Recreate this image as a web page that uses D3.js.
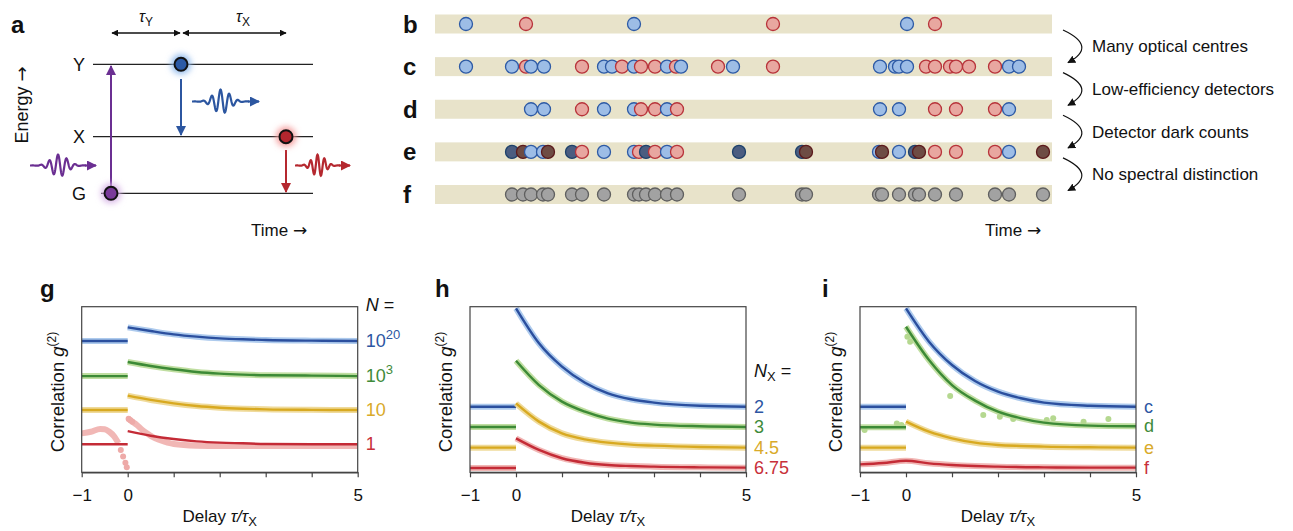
<!DOCTYPE html>
<html>
<head>
<meta charset="utf-8">
<script src="https://cdn.jsdelivr.net/npm/d3@7"></script>
<style>
  body { margin: 0; background: #fff; }
  text { font-family: "Liberation Sans", Arial, Helvetica, sans-serif; fill: #111; }
  .arw { font-family: "DejaVu Sans", sans-serif; }
</style>
</head>
<body>
<div id="fig"></div>
<script>
// ---------- data ----------
// photon detection events for rows b–f: [time, kind]
// kind: Y = biexciton photon, X = exciton photon, dY/dX = dark counts, G = no spectral info
const rowLabels = ["b", "c", "d", "e", "f"];
const rowB = [[31,"Y"],[91,"X"],[199,"Y"],[338,"X"],[472,"Y"],[500,"X"]];
const rowC = [[31,"Y"],[77,"Y"],[91,"X"],[96,"Y"],[109,"Y"],[147,"X"],[169,"Y"],[177,"Y"],[187,"X"],[199,"Y"],
              [206,"X"],[220,"X"],[232,"Y"],[241,"X"],[246,"Y"],[283,"X"],[298,"Y"],[338,"X"],[445,"Y"],[460,"Y"],
              [464,"Y"],[472,"Y"],[491,"X"],[500,"X"],[515,"X"],[521,"X"],[534,"X"],[560,"X"],[574,"Y"],[584,"Y"]];
const rowD = [[96,"Y"],[109,"Y"],[147,"X"],[169,"Y"],[199,"Y"],[206,"X"],[220,"X"],[232,"Y"],[242,"X"],
              [445,"Y"],[464,"Y"],[500,"X"],[521,"X"],[560,"X"],[574,"Y"]];
const rowE = [[77,"dY"],[88,"dX"],[96,"Y"],[108,"Y"],[113,"dX"],[137,"dY"],[147,"X"],[169,"Y"],[199,"Y"],[204,"X"],
              [211,"dY"],[220,"X"],[232,"Y"],[242,"X"],[304,"dY"],[367,"dY"],[371,"dX"],[444,"Y"],[447,"dX"],[464,"Y"],
              [480,"dY"],[484,"dX"],[500,"X"],[521,"X"],[560,"X"],[574,"Y"],[608,"dX"]];
const rowF = rowE.map(d => [d[0], "G"]);
const rows = [rowB, rowC, rowD, rowE, rowF];
const stepNotes = ["Many optical centres", "Low-efficiency detectors", "Detector dark counts", "No spectral distinction"];

// correlation curves (arbitrary offset units, 0–10)
const tauNeg = [-1, 0];
const tauFit = [0, 0.5, 1, 1.5, 2, 2.5, 3, 4, 5];

const gBase   = [7.93, 5.81, 3.76, 1.69];
const gBlue   = [8.75, 8.53, 8.33, 8.19, 8.09, 8.03, 7.99, 7.95, 7.93];
const gGreen  = [6.66, 6.42, 6.22, 6.06, 5.96, 5.90, 5.86, 5.84, 5.81];
const gYellow = [4.63, 4.37, 4.16, 4.00, 3.90, 3.84, 3.80, 3.77, 3.76];
const gRed    = [2.49, 2.21, 2.01, 1.87, 1.79, 1.75, 1.71, 1.69, 1.69];
const gRedNegTau = [-1, -0.8, -0.6, -0.5, -0.4, -0.3, -0.2];
const gRedNegVal = [2.35, 2.45, 2.62, 2.60, 2.45, 2.19, 1.75];
const gRedPosTau = [0, 0.1, 0.2, 0.3, 0.4, 0.6, 0.8, 1, 1.5, 2, 3, 4, 5];
const gRedPosVal = [3.26, 3.06, 2.86, 2.60, 2.39, 2.05, 1.85, 1.71, 1.61, 1.59, 1.59, 1.59, 1.59];
const gRedDotTau = [-0.15, -0.1, -0.05, -0.02, 0.02, 0.06, 0.1];
const gRedDotVal = [1.35, 0.95, 0.58, 0.30, 3.24, 3.15, 3.06];
const gLabels = [["10","20"], ["10","3"], ["10",""], ["1",""]];

const hBase   = [3.96, 2.74, 1.49, 0.26];
const hBlue   = [9.90, 7.79, 6.38, 5.41, 4.77, 4.41, 4.21, 4.02, 3.96];
const hGreen  = [6.74, 5.27, 4.27, 3.66, 3.24, 3.00, 2.88, 2.78, 2.74];
const hYellow = [4.16, 3.06, 2.35, 1.99, 1.79, 1.67, 1.61, 1.53, 1.49];
const hRed    = [2.05, 1.35, 0.85, 0.58, 0.44, 0.38, 0.34, 0.30, 0.28];
const hLabels = [["2",""], ["3",""], ["4.5",""], ["6.75",""]];

const iBase   = [3.96, 2.72, 1.49];
const iBlue   = [9.90, 7.89, 6.48, 5.51, 4.87, 4.47, 4.21, 4.02, 3.96];
const iGreen  = [8.79, 6.78, 5.27, 4.33, 3.66, 3.26, 3.00, 2.82, 2.78];
const iYellow = [3.06, 2.45, 2.05, 1.79, 1.65, 1.59, 1.55, 1.51, 1.49];
const iRedTau = [-1, -0.5, 0, 0.5, 1, 1.5, 2, 3, 4, 5];
const iRed    = [0.48, 0.56, 0.70, 0.54, 0.44, 0.38, 0.34, 0.30, 0.28, 0.28];
const iGreenDotTau = [-0.9, -0.2, -0.1, 0.03, 0.09, 0.96, 1.68, 2.04, 2.33, 3.06, 3.2, 3.86, 4.4];
const iGreenDotVal = [2.56, 2.95, 2.85, 8.19, 7.89, 4.61, 3.46, 3.36, 3.22, 3.16, 3.26, 3.06, 3.22];
const iLabels = [["c",""], ["d",""], ["e",""], ["f",""]];

const fitColors   = ["#2b4f9e", "#3c8a36", "#d8a920", "#c42b36"];
const dataColors  = ["#9fc1ea", "#b5d890", "#ecd488", "#eeaaa8"];
const labelColors = ["#2d56a3", "#3f8b3a", "#d9aa2a", "#c8303a"];
const eventStyle = {
  Y:  { fill: "#9dbde6", stroke: "#2d5aa5" },
  X:  { fill: "#e8a7a0", stroke: "#b8333a" },
  dY: { fill: "#4b5d80", stroke: "#1d416b" },
  dX: { fill: "#6e4c44", stroke: "#5c1a1c" },
  G:  { fill: "#a2a2a2", stroke: "#5f5f5f" }
};

// ---------- setup ----------
const svg = d3.select("#fig").append("svg").attr("width", 1293).attr("height", 531);
const defs = svg.append("defs");

function marker(id, color, size) {
  defs.append("marker").attr("id", id)
    .attr("viewBox", "0 0 10 10").attr("refX", 9).attr("refY", 5)
    .attr("markerUnits", "userSpaceOnUse")
    .attr("markerWidth", size).attr("markerHeight", size)
    .attr("orient", "auto-start-reverse")
    .append("path").attr("d", "M0,0 L10,5 L0,10 z").attr("fill", color);
}
marker("arK", "#111", 8);
marker("arKs", "#111", 7);
marker("arP", "#6b2f92", 10);
marker("arB", "#2c56a0", 10);
marker("arR", "#b5282f", 10);

defs.append("filter").attr("id", "glow").attr("x", "-100%").attr("y", "-100%")
  .attr("width", "300%").attr("height", "300%")
  .append("feGaussianBlur").attr("stdDeviation", 3);

function panelLetter(t, x, y) {
  svg.append("text").attr("x", x).attr("y", y).text(t)
    .style("font-size", "24px").style("font-weight", "bold");
}
function withArrow(sel, label) {
  sel.append("tspan").text(label + " ");
  sel.append("tspan").attr("class", "arw").text("→");
}

// ---------- panel a ----------
const a = svg.append("g");
panelLetter("a", 11, 33);

// tau arrows
a.append("line").attr("x1", 112).attr("x2", 180).attr("y1", 33).attr("y2", 33)
  .attr("stroke", "#111").attr("stroke-width", 1.3)
  .attr("marker-start", "url(#arKs)").attr("marker-end", "url(#arKs)");
a.append("line").attr("x1", 183).attr("x2", 286).attr("y1", 33).attr("y2", 33)
  .attr("stroke", "#111").attr("stroke-width", 1.3)
  .attr("marker-start", "url(#arKs)").attr("marker-end", "url(#arKs)");
[["Y", 146], ["X", 243]].forEach(([s, x]) => {
  const t = a.append("text").attr("x", x).attr("y", 22).attr("text-anchor", "middle").style("font-size", "16px");
  t.append("tspan").text("τ").style("font-style", "italic");
  t.append("tspan").attr("dy", 4).style("font-size", "12px").text(s);
});

// energy levels
const levels = [["Y", 64.3, 93], ["X", 136.7, 93], ["G", 193.3, 101]];
levels.forEach(([s, y, x0]) => {
  a.append("line").attr("x1", x0).attr("x2", 313).attr("y1", y).attr("y2", y)
    .attr("stroke", "#222").attr("stroke-width", 1.3);
  a.append("text").attr("x", 79).attr("y", y + 6.5).attr("text-anchor", "middle")
    .style("font-size", "18px").text(s);
});

withArrow(a.append("text").attr("transform", "translate(28,105) rotate(-90)").attr("text-anchor", "middle")
  .style("font-size", "18px"), "Energy");

// transitions
a.append("line").attr("x1", 111).attr("x2", 111).attr("y1", 186).attr("y2", 66)
  .attr("stroke", "#6b2f92").attr("stroke-width", 2).attr("marker-end", "url(#arP)");
a.append("line").attr("x1", 181).attr("x2", 181).attr("y1", 79).attr("y2", 135)
  .attr("stroke", "#2c56a0").attr("stroke-width", 2).attr("marker-end", "url(#arB)");
a.append("line").attr("x1", 286).attr("x2", 286).attr("y1", 150).attr("y2", 192)
  .attr("stroke", "#b5282f").attr("stroke-width", 2).attr("marker-end", "url(#arR)");

// wave packets (schematic photons)
function wave(x0, x1, yc, amp, color, mk) {
  const len = x1 - x0 - 10;
  const pts = d3.range(0, 1.0001, 0.005).map(u => {
    const env = Math.exp(-Math.pow((u - 0.52) / 0.2, 2));
    return [x0 + u * len, yc - amp * env * Math.sin(u * 2 * Math.PI * 6.5)];
  });
  a.append("path").attr("d", d3.line()(pts)).attr("fill", "none")
    .attr("stroke", color).attr("stroke-width", 2.2);
  a.append("line").attr("x1", x0 + len - 1).attr("x2", x1).attr("y1", yc).attr("y2", yc)
    .attr("stroke", color).attr("stroke-width", 2.2).attr("marker-end", `url(#${mk})`);
}
wave(30, 96, 165.5, 11, "#6b2f92", "arP");
wave(192, 259, 101.5, 12, "#2c56a0", "arB");
wave(295, 350, 165.5, 11, "#b5282f", "arR");

// states with glow
[[111, 193.3, "#7a3a9a", "#d7b3e6"], [181, 64.3, "#2b5aa6", "#8fb9ec"], [286, 136.7, "#b3262e", "#f59a9a"]]
  .forEach(([cx, cy, fill, glow]) => {
    a.append("circle").attr("cx", cx).attr("cy", cy).attr("r", 10).attr("fill", glow).attr("filter", "url(#glow)");
    a.append("circle").attr("cx", cx).attr("cy", cy).attr("r", 6.5).attr("fill", fill)
      .attr("stroke", "#111").attr("stroke-width", 2);
  });

withArrow(a.append("text").attr("x", 251).attr("y", 236).style("font-size", "17px"), "Time");

// ---------- panels b–f ----------
const tScale = d3.scaleLinear().domain([0, 617]).range([435, 1052]);
const rowY = d3.scalePoint().domain(rowLabels).range([24, 194.5]);
const ev = svg.append("g");
rowLabels.forEach((lab, r) => {
  const yc = rowY(lab);
  ev.append("rect").attr("x", tScale(0)).attr("width", tScale(617) - tScale(0))
    .attr("y", yc - 9.5).attr("height", 19).attr("fill", "#e8e3ca");
  panelLetter(lab, 403, yc + 8.5);
  ev.append("g").selectAll("circle").data(rows[r]).join("circle")
    .attr("cx", d => tScale(d[0])).attr("cy", yc).attr("r", 6.5)
    .attr("fill", d => eventStyle[d[1]].fill)
    .attr("stroke", d => eventStyle[d[1]].stroke).attr("stroke-width", 1.3);
});
stepNotes.forEach((note, i) => {
  const y0 = rowY(rowLabels[i]) + 6, y1 = rowY(rowLabels[i + 1]) - 4;
  ev.append("path").attr("d", `M1063,${y0} Q1098,${(y0 + y1) / 2} 1068,${y1}`)
    .attr("fill", "none").attr("stroke", "#111").attr("stroke-width", 1.2)
    .attr("marker-end", "url(#arK)");
  ev.append("text").attr("x", 1092).attr("y", (y0 + y1) / 2 + 6).style("font-size", "17px").text(note);
});
withArrow(ev.append("text").attr("x", 985).attr("y", 236).style("font-size", "17px"), "Time");

// ---------- panels g–i ----------
const zip = (ts, vs) => ts.map((t, i) => [t, vs[i]]);
function stdSeries(base, fit) {
  const neg = tauNeg.map(t => [t, base]);
  const pos = zip(tauFit, fit);
  return { fit: [neg, pos], data: [neg, pos], dots: [] };
}

const gSeries = [stdSeries(gBase[0], gBlue), stdSeries(gBase[1], gGreen), stdSeries(gBase[2], gYellow),
  { fit: [tauNeg.map(t => [t, gBase[3]]), zip(tauFit, gRed)],
    data: [zip(gRedNegTau, gRedNegVal), zip(gRedPosTau, gRedPosVal)],
    dots: zip(gRedDotTau, gRedDotVal) }];
const hSeries = [stdSeries(hBase[0], hBlue), stdSeries(hBase[1], hGreen), stdSeries(hBase[2], hYellow), stdSeries(hBase[3], hRed)];
const iGreenS = stdSeries(iBase[1], iGreen);
iGreenS.dots = zip(iGreenDotTau, iGreenDotVal);
const iRedLine = zip(iRedTau, iRed);
const iSeries = [stdSeries(iBase[0], iBlue), iGreenS, stdSeries(iBase[2], iYellow),
  { fit: [iRedLine], data: [iRedLine], dots: [] }];

const corrPanels = [
  { key: "g", left: 81.7, letterX: 40, series: gSeries, labels: gLabels, head: ["N", ""] },
  { key: "h", left: 470, letterX: 435, series: hSeries, labels: hLabels, head: ["N", "X"] },
  { key: "i", left: 860, letterX: 822, series: iSeries, labels: iLabels, head: null }
];

corrPanels.forEach(p => {
  const x = d3.scaleLinear().domain([-1, 5]).range([p.left, p.left + 276]);
  const y = d3.scaleLinear().domain([0, 10]).range([472.3, 306.7]);
  const g = svg.append("g");
  panelLetter(p.key, p.letterX, 297);

  defs.append("clipPath").attr("id", "clip-" + p.key).append("rect")
    .attr("x", x(-1)).attr("y", y(10)).attr("width", x(5) - x(-1)).attr("height", y(0) - y(10));
  const plot = g.append("g").attr("clip-path", `url(#clip-${p.key})`);
  const line = d3.line().x(d => x(d[0])).y(d => y(d[1])).curve(d3.curveMonotoneX);

  p.series.forEach((s, k) => {
    plot.append("g").selectAll("path").data(s.data).join("path")
      .attr("d", line).attr("fill", "none")
      .attr("stroke", dataColors[k]).attr("stroke-width", 6).attr("opacity", 0.85);
    plot.append("g").selectAll("circle").data(s.dots).join("circle")
      .attr("cx", d => x(d[0])).attr("cy", d => y(d[1])).attr("r", 3)
      .attr("fill", dataColors[k]);
    plot.append("g").selectAll("path").data(s.fit).join("path")
      .attr("d", line).attr("fill", "none")
      .attr("stroke", fitColors[k]).attr("stroke-width", 2.4);
  });

  // frame
  g.append("rect").attr("x", x(-1)).attr("y", y(10)).attr("width", x(5) - x(-1)).attr("height", y(0) - y(10))
    .attr("fill", "none").attr("stroke", "#444").attr("stroke-width", 1.2);

  const ax = g.append("g").attr("transform", `translate(0,${y(0)})`)
    .call(d3.axisBottom(x).tickValues([-1, 0, 1, 2, 3, 4, 5]).tickSize(5).tickPadding(12).tickSizeOuter(0)
      .tickFormat(d => d === -1 ? "−1" : (d === 0 || d === 5) ? d : ""));
  ax.select(".domain").attr("stroke", "#444").attr("stroke-width", 1.4);
  ax.selectAll(".tick line").attr("stroke", "#444").attr("stroke-width", 1.2);
  ax.selectAll("text").style("font-size", "17px").style("font-family", "Liberation Sans, Arial, sans-serif").attr("fill", "#111");

  // axis titles
  const xt = g.append("text").attr("x", (x(-1) + x(5)) / 2).attr("y", 522).attr("text-anchor", "middle").style("font-size", "17px");
  xt.append("tspan").text("Delay ");
  xt.append("tspan").style("font-style", "italic").text("τ/τ");
  xt.append("tspan").attr("dy", 4).style("font-size", "13px").text("X");

  const yt = g.append("text").attr("transform", `translate(${x(-1) - 18},392) rotate(-90)`)
    .attr("text-anchor", "middle").style("font-size", "18.5px");
  yt.append("tspan").text("Correlation ");
  yt.append("tspan").style("font-style", "italic").text("g");
  yt.append("tspan").attr("dy", -8).style("font-size", "12px").text("(2)");

  // right-hand labels
  const lx = x(5) + 8;
  p.labels.forEach((lab, k) => {
    const s = p.series[k];
    const last = s.fit[s.fit.length - 1];
    const t = g.append("text").attr("x", lx).attr("y", y(last[last.length - 1][1]) + 6)
      .style("font-size", "18px").style("fill", labelColors[k]);
    t.append("tspan").text(lab[0]);
    if (lab[1]) t.append("tspan").attr("dy", -8).style("font-size", "13px").text(lab[1]);
  });
  if (p.head) {
    const hy = p.key === "g" ? 311 : 377;
    const t = g.append("text").attr("x", lx).attr("y", hy).style("font-size", "18px");
    t.append("tspan").style("font-style", "italic").text(p.head[0]);
    if (p.head[1]) t.append("tspan").attr("dy", 4).style("font-size", "13px").text(p.head[1]);
    t.append("tspan").attr("dy", p.head[1] ? -4 : 0).text(" =");
  }
});
</script>
</body>
</html>
